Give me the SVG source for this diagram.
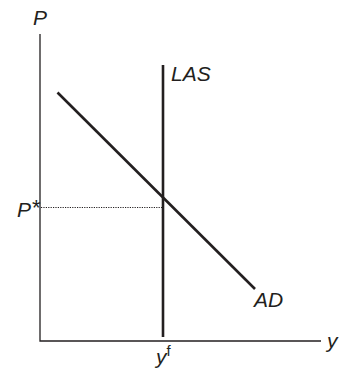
<svg xmlns="http://www.w3.org/2000/svg" width="340" height="369" viewBox="0 0 340 369">
<style>
.lbl{font-family:"Liberation Sans",Arial,sans-serif;font-style:italic;font-size:21px;fill:#231f20}
.axis{stroke:#231f20;stroke-width:1.3;fill:none}
.curve{stroke:#231f20;stroke-width:2.6;fill:none}
.dot{stroke:#231f20;stroke-width:1;stroke-dasharray:1.2 1.2;fill:none}
</style>
<rect width="340" height="369" fill="#fff"/>
<g id="axes">
<polyline class="axis" points="40,34 40,341 321,341"/>
<text class="lbl" x="33" y="25">P</text>
<text class="lbl" x="327" y="348">y</text>
</g>
<g id="connectors">
<line class="dot" x1="41" y1="207.5" x2="162" y2="207.5"/>
</g>
<g id="LAS">
<line class="curve" x1="163" y1="65" x2="163" y2="337"/>
<text class="lbl" x="171" y="81">LAS</text>
</g>
<g id="AD">
<line class="curve" x1="57.5" y1="92.5" x2="255" y2="289"/>
<text class="lbl" x="254" y="307">AD</text>
</g>
<g id="Pstar">
<text class="lbl" x="17" y="217">P<tspan font-style="normal" font-size="22" dx="1" dy="-2">*</tspan></text>
</g>
<g id="yf">
<text class="lbl" x="156" y="364">y<tspan font-style="normal" font-size="15" dy="-8">f</tspan></text>
</g>
</svg>
